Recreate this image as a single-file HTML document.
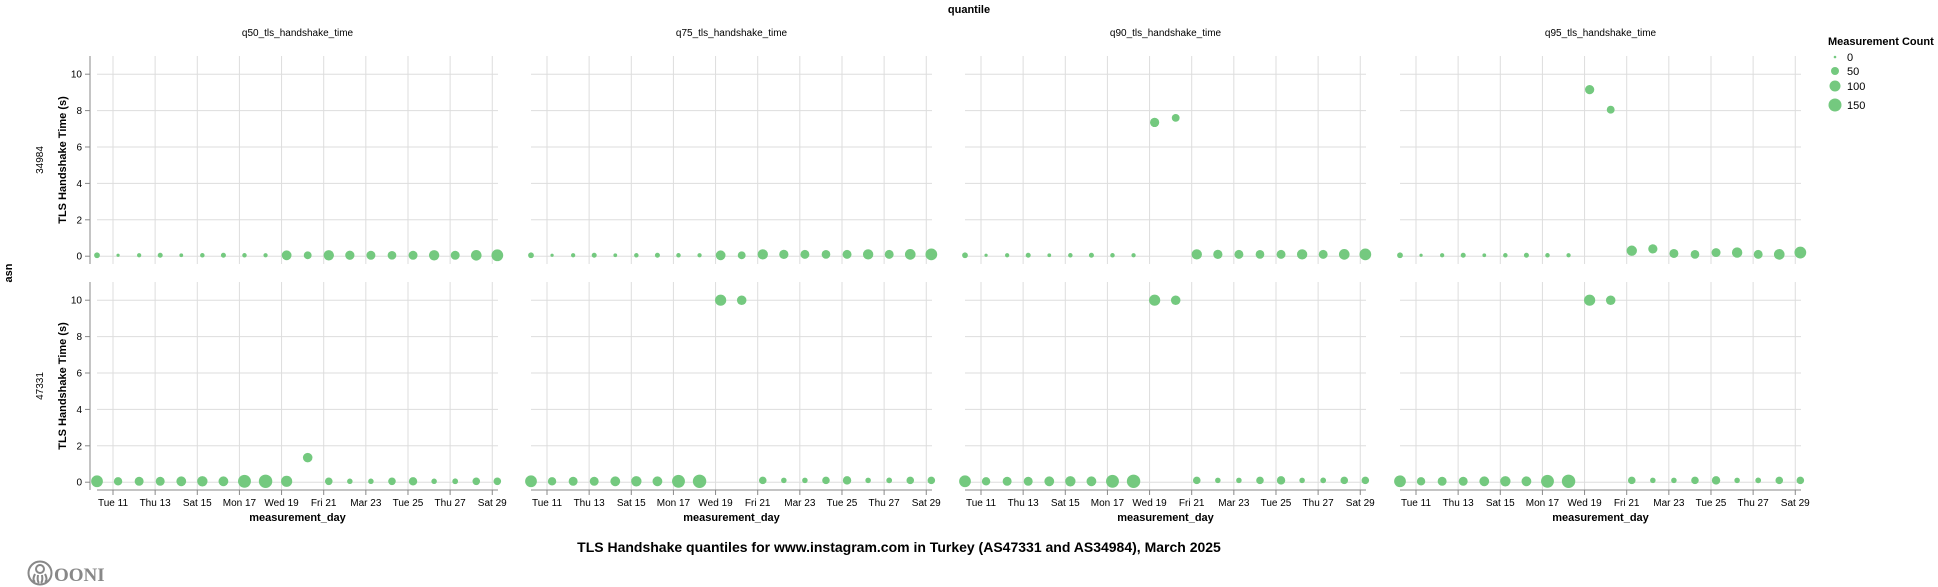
<!DOCTYPE html>
<html><head><meta charset="utf-8"><style>
html,body{margin:0;padding:0;background:#fff;width:1938px;height:587px;overflow:hidden}
svg{display:block;font-family:"Liberation Sans",Arial,sans-serif}
</style></head><body>
<svg id="s" width="1938" height="587" viewBox="0 0 1938 587" xmlns="http://www.w3.org/2000/svg">
<text x="969" y="13" text-anchor="middle" font-size="11" font-weight="bold">quantile</text>
<text x="12" y="273" text-anchor="middle" font-size="11" font-weight="bold" transform="rotate(-90 12 273)">asn</text>
<text x="899" y="552" text-anchor="middle" font-size="14" font-weight="bold">TLS Handshake quantiles for www.instagram.com in Turkey (AS47331 and AS34984), March 2025</text>
<text x="1828" y="45" font-size="11" font-weight="bold">Measurement Count</text>
<g fill="#74c97f"><circle cx="1835" cy="57" r="1.3"/><circle cx="1835" cy="71" r="4"/><circle cx="1835" cy="86" r="5.5"/><circle cx="1835" cy="105" r="6.5"/></g>
<g font-size="11"><text x="1847" y="61">0</text><text x="1847" y="75">50</text><text x="1847" y="90">100</text><text x="1847" y="109">150</text></g>
<g transform="translate(27,560)" fill="none" stroke="#888" stroke-width="2">
<circle cx="13" cy="13" r="11.5"/><circle cx="13" cy="9" r="4"/><path d="M8 14 q-3 6 0 8 M11 15 q-1 6 1 8 M15 15 q1 6 -1 8 M18 14 q3 6 0 8"/></g>
<text x="54" y="581" font-family="Liberation Serif,serif" font-size="19" font-weight="bold" fill="#888">OONI</text>
<g id="g"></g>
</svg>
<script>
const NS="http://www.w3.org/2000/svg",g=document.getElementById('g');
function el(t,a,txt){const e=document.createElementNS(NS,t);for(const k in a)e.setAttribute(k,a[k]);if(txt!==undefined)e.textContent=txt;g.appendChild(e);return e;}
const X0=[97,531,965,1400],W=401,rows=[{top:56},{top:282}],pps=18.2,dx=21.07;
const titles=["q50_tls_handshake_time","q75_tls_handshake_time","q90_tls_handshake_time","q95_tls_handshake_time"];
const ticks=["Tue 11","Thu 13","Sat 15","Mon 17","Wed 19","Fri 21","Mar 23","Tue 25","Thu 27","Sat 29"];
const r1=[2.3,1.3,1.7,2,1.5,1.8,2,1.8,1.7,3.5,2.8,3.7,3.3,3.2,3.1,3.2,3.7,3.2,3.8,4.2];
const r2=[4.2,3,3.2,3.2,3.5,3.7,3.5,4.6,4.8,4,3.4,2.7,2.2,2.2,2.7,3,2.2,2.3,2.7,2.7];
const sc=r=>r>2.4?r*1.4:r*1.25;
titles.forEach((t,c)=>el('text',{x:X0[c]+W/2,y:36,'text-anchor':'middle','font-size':10},t));
rows.forEach((R,ri)=>{
 const y0=R.top+11*pps,bot=R.top+208;
 for(let c=0;c<4;c++){
  const x=X0[c];
  for(let v=0;v<=10;v+=2)el('line',{x1:x,x2:x+W,y1:y0-v*pps,y2:y0-v*pps,stroke:'#ddd'});
  for(let k=0;k<10;k++){const tx=x+16+2*dx*k;el('line',{x1:tx,x2:tx,y1:R.top,y2:bot,stroke:'#ddd'});}
  if(c==0){el('line',{x1:90,x2:90,y1:R.top,y2:bot,stroke:'#888'});
   for(let v=0;v<=10;v+=2){el('line',{x1:85,x2:90,y1:y0-v*pps,y2:y0-v*pps,stroke:'#888'});el('text',{x:82,y:y0-v*pps+3.5,'text-anchor':'end','font-size':10},v);}
   const my=R.top+104;el('text',{x:66,y:my,'text-anchor':'middle','font-size':11,'font-weight':'bold',transform:`rotate(-90 66 ${my})`},'TLS Handshake Time (s)');
   el('text',{x:43,y:my,'text-anchor':'middle','font-size':10,transform:`rotate(-90 43 ${my})`},ri==0?'34984':'47331');}
  if(ri==1){el('line',{x1:x,x2:x+W,y1:490,y2:490,stroke:'#888'});
   for(let k=0;k<10;k++){const tx=x+16+2*dx*k;el('line',{x1:tx,x2:tx,y1:490,y2:495,stroke:'#888'});el('text',{x:tx,y:506,'text-anchor':'middle','font-size':10},ticks[k]);}
   el('text',{x:x+W/2,y:521,'text-anchor':'middle','font-size':11,'font-weight':'bold'},'measurement_day');}
  for(let i=0;i<20;i++){
   let v=0.05,r=(ri==0?r1:r2)[i];
   if(ri==0){
    if(c==2&&(i==9||i==10)){v=i==9?7.35:7.6;r=i==9?3.3:2.8;}
    if(c==3&&(i==9||i==10)){v=i==9?9.15:8.05;r=i==9?3.3:2.8;}
    if(c==3&&i>10)v=[0.3,0.4,0.15,0.1,0.2,0.2,0.1,0.1,0.2][i-11];
    if(c>=1&&i>=11)v=Math.max(v,0.1);
   }else{
    if(c==0&&i==10){v=1.35;}
    if(c>0&&(i==9||i==10)){v=10;r=i==9?4:3.4;}
    if(c>0&&i>10)v=0.1;
   }
   el('circle',{cx:x+i*dx,cy:y0-v*pps,r:sc(r),fill:'#74c97f'});
  }
 }
});
</script>
</body></html>
